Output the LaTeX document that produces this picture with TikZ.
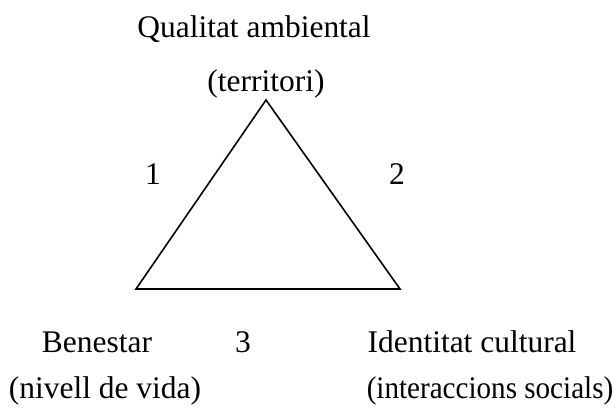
\documentclass[tikz,border=0pt]{standalone}
\usepackage{fontspec}
\setmainfont{Liberation Serif}
\usetikzlibrary{positioning, calc}

\begin{document}
\begin{tikzpicture}[x=0.75pt, y=-0.75pt,
	lbl/.style={anchor=base, inner sep=0pt, font=\fontsize{23.6}{28}\selectfont}]
	\useasboundingbox (0,0) rectangle (616,408);
	% ---- triangle ----
	\coordinate (top) at (266,100);
	\coordinate (left) at (136,289);
	\coordinate (right) at (400,289);
	\draw[line width=1.2pt, line join=miter] (top) -- (right) -- (left) -- cycle;
	% ---- labels ----
	\node[lbl] (qual) at (254,37) {Qualitat ambiental};
	\node[lbl] (terr) at (266,91) {(territori)};
	\node[lbl] (one) at (153,184) {1};
	\node[lbl] (two) at (397,184) {2};
	\node[lbl] (bene) at (97,352) {Benestar};
	\node[lbl] (three) at (243,352) {3};
	\node[lbl] (iden) at (472,352) {Identitat cultural};
	\node[lbl] (nive) at (105,398) {(nivell de vida)};
	\node[lbl] (inte) at (490,398) {\scalebox{0.925}[1]{(interaccions socials)}};
\end{tikzpicture}
\end{document}
